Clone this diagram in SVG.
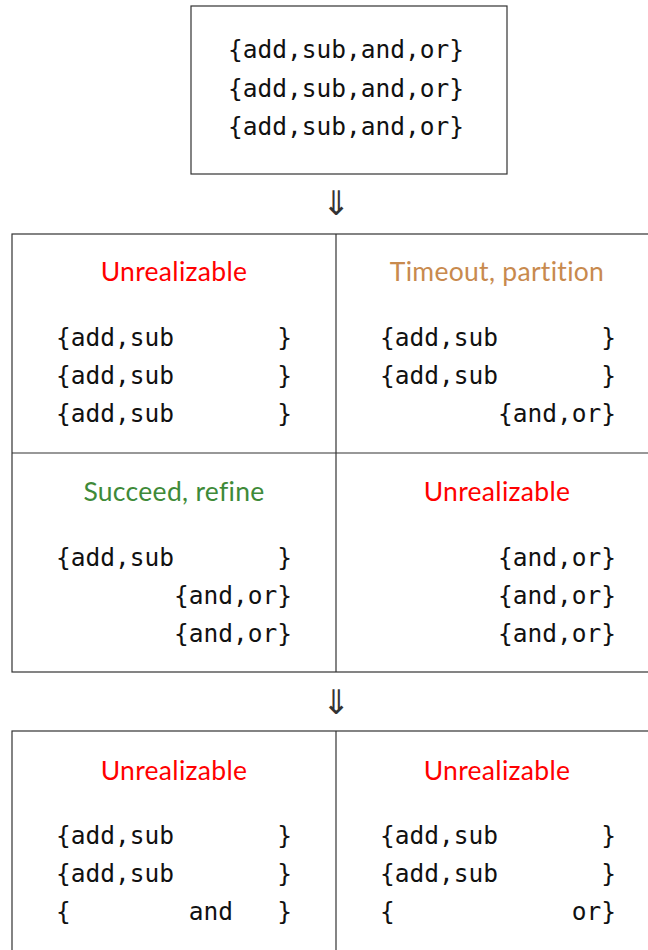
<svg xmlns="http://www.w3.org/2000/svg" width="648" height="950" viewBox="0 0 648 950">
<style>
.box{fill:#fff;stroke:#333;stroke-width:1.2}
.ln{stroke:#333;stroke-width:1.2;fill:none}
.m{font-family:"DejaVu Sans Mono",monospace;font-size:24.5px;fill:#111;white-space:pre}
.t{font-family:Lato,"DejaVu Sans",sans-serif;font-size:26.5px;text-anchor:middle;font-variant-ligatures:none;letter-spacing:0.3px}
.red{fill:#ff0000}
.org{fill:#c88a4e}
.grn{fill:#3e8a38}
.arr{font-family:"DejaVu Sans",sans-serif;font-size:34px;text-anchor:middle;fill:#333}
</style>
<rect width="648" height="950" fill="#fff"/>
<g id="start">
<rect class="box" x="191" y="6" width="316" height="168"/>
<text class="m" x="228" y="58" xml:space="preserve">{add,sub,and,or}</text>
<text class="m" x="228" y="97" xml:space="preserve">{add,sub,and,or}</text>
<text class="m" x="228" y="135" xml:space="preserve">{add,sub,and,or}</text>
</g>
<g id="connectors">
<text class="arr" x="336" y="215">⇓</text>
<text class="arr" x="336" y="714">⇓</text>
</g>
<g id="grid1">
<rect class="box" x="12" y="234" width="660" height="438"/>
<line class="ln" x1="336" y1="234" x2="336" y2="672"/>
<line class="ln" x1="12" y1="453" x2="660" y2="453"/>
</g>
<g id="cell1">
<text class="t red" x="174" y="281">Unrealizable</text>
<text class="m" x="56" y="346" xml:space="preserve">{add,sub       }</text>
<text class="m" x="56" y="384" xml:space="preserve">{add,sub       }</text>
<text class="m" x="56" y="422" xml:space="preserve">{add,sub       }</text>
</g>
<g id="cell2">
<text class="t org" x="497" y="281">Timeout, partition</text>
<text class="m" x="380" y="346" xml:space="preserve">{add,sub       }</text>
<text class="m" x="380" y="384" xml:space="preserve">{add,sub       }</text>
<text class="m" x="380" y="422" xml:space="preserve">        {and,or}</text>
</g>
<g id="cell3">
<text class="t grn" x="174" y="501">Succeed, refine</text>
<text class="m" x="56" y="566" xml:space="preserve">{add,sub       }</text>
<text class="m" x="56" y="604" xml:space="preserve">        {and,or}</text>
<text class="m" x="56" y="642" xml:space="preserve">        {and,or}</text>
</g>
<g id="cell4">
<text class="t red" x="497" y="501">Unrealizable</text>
<text class="m" x="380" y="566" xml:space="preserve">        {and,or}</text>
<text class="m" x="380" y="604" xml:space="preserve">        {and,or}</text>
<text class="m" x="380" y="642" xml:space="preserve">        {and,or}</text>
</g>
<g id="grid2">
<rect class="box" x="12" y="731" width="660" height="240"/>
<line class="ln" x1="336" y1="731" x2="336" y2="960"/>
</g>
<g id="cell5">
<text class="t red" x="174" y="780">Unrealizable</text>
<text class="m" x="56" y="844" xml:space="preserve">{add,sub       }</text>
<text class="m" x="56" y="882" xml:space="preserve">{add,sub       }</text>
<text class="m" x="56" y="920" xml:space="preserve">{        and   }</text>
</g>
<g id="cell6">
<text class="t red" x="497" y="780">Unrealizable</text>
<text class="m" x="380" y="844" xml:space="preserve">{add,sub       }</text>
<text class="m" x="380" y="882" xml:space="preserve">{add,sub       }</text>
<text class="m" x="380" y="920" xml:space="preserve">{            or}</text>
</g>
</svg>
